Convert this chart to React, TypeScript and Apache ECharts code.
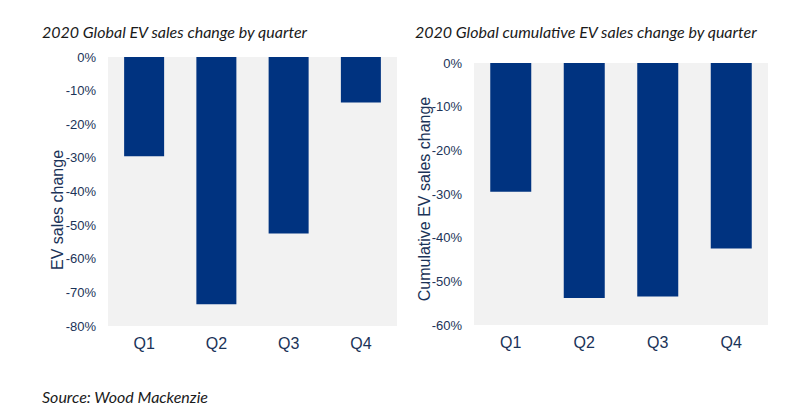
import React, { useEffect, useRef } from "react";
import * as echarts from "echarts";

const categories = ["Q1", "Q2", "Q3", "Q4"];
const quarterlyChange = [-29.5, -73.5, -52.5, -13.5];
const cumulativeChange = [-29.5, -53.8, -53.5, -42.5];
const leftTicks = { min: -80, max: 0, interval: 10 };
const rightTicks = { min: -60, max: 0, interval: 10 };
const leftTitle = "2020 Global EV sales change by quarter";
const rightTitle = "2020 Global cumulative EV sales change by quarter";
const leftAxisName = "EV sales change";
const rightAxisName = "Cumulative EV sales change";
const sourceText = "Source: Wood Mackenzie";

const BAR = "#003380";
const LABEL = "#1b3358";
const SANS = "'Liberation Sans', Arial, sans-serif";
const TITLEFONT = "Lato, 'Open Sans', sans-serif";

export default function App() {
  const ref = useRef<HTMLDivElement>(null);
  useEffect(() => {
    if (!ref.current) return;
    const chart = echarts.init(ref.current, null, { renderer: "svg" });
    const xAxisBase = {
      type: "category" as const,
      data: categories,
      axisLine: { show: false },
      axisTick: { show: false },
      axisLabel: { color: LABEL, fontSize: 16, fontFamily: SANS, margin: 9 },
    };
    const yAxisBase = {
      type: "value" as const,
      splitLine: { show: false },
      axisLine: { show: false },
      axisTick: { show: false },
      axisLabel: {
        color: LABEL,
        fontSize: 13,
        fontFamily: SANS,
        margin: 12,
        formatter: (v: number) => `${v}%`,
      },
    };
    chart.setOption({
      animation: false,
      backgroundColor: "#ffffff",
      grid: [
        { left: 108, top: 57, width: 289, height: 269, show: true, backgroundColor: "#f2f2f2", borderWidth: 0 },
        { left: 474, top: 63, width: 294, height: 262, show: true, backgroundColor: "#f2f2f2", borderWidth: 0 },
      ],
      xAxis: [
        { ...xAxisBase, gridIndex: 0 },
        { ...xAxisBase, gridIndex: 1 },
      ],
      yAxis: [
        { ...yAxisBase, gridIndex: 0, ...leftTicks },
        { ...yAxisBase, gridIndex: 1, ...rightTicks },
      ],
      series: [
        {
          type: "bar",
          xAxisIndex: 0,
          yAxisIndex: 0,
          data: quarterlyChange,
          barWidth: 40,
          itemStyle: { color: BAR },
        },
        {
          type: "bar",
          xAxisIndex: 1,
          yAxisIndex: 1,
          data: cumulativeChange,
          barWidth: 41,
          itemStyle: { color: BAR },
        },
      ],
      graphic: [
        {
          type: "text",
          left: 42,
          top: 23,
          style: { text: leftTitle, fontSize: 16, fontStyle: "italic", fontFamily: TITLEFONT, fill: "#1a1a1a" },
        },
        {
          type: "text",
          left: 415,
          top: 23,
          style: { text: rightTitle, fontSize: 16, fontStyle: "italic", fontFamily: TITLEFONT, fill: "#1a1a1a" },
        },
        {
          type: "text",
          x: 57,
          y: 210,
          rotation: Math.PI / 2,
          style: {
            text: leftAxisName,
            fontSize: 16,
            fontFamily: SANS,
            fill: LABEL,
            align: "center",
            verticalAlign: "middle",
          },
        },
        {
          type: "text",
          x: 424,
          y: 199,
          rotation: Math.PI / 2,
          style: {
            text: rightAxisName,
            fontSize: 16,
            fontFamily: SANS,
            fill: LABEL,
            align: "center",
            verticalAlign: "middle",
          },
        },
        {
          type: "text",
          left: 42,
          top: 388,
          style: { text: sourceText, fontSize: 16, fontStyle: "italic", fontFamily: TITLEFONT, fill: "#1a1a1a" },
        },
      ],
    });
    return () => chart.dispose();
  }, []);
  return <div ref={ref} style={{ width: 800, height: 415, position: "absolute", left: 0, top: 0 }} />;
}
